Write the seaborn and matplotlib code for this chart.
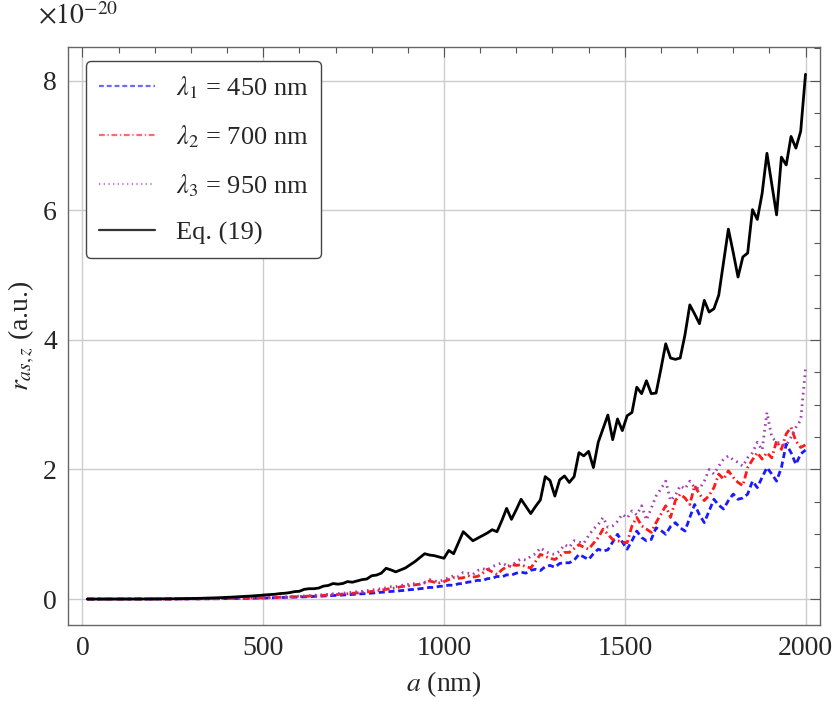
import numpy as np
import pandas as pd
import matplotlib
matplotlib.use("Agg")
import matplotlib.pyplot as plt
from matplotlib.ticker import MultipleLocator
import seaborn as sns

# particle size a (nm): 150 samples, step 2000/150
a_nm = np.linspace(2000 / 150, 2000, 150)

# r_as,z in units of 1e-20 (a.u.)
eq19 = [
    0, 0, 0, 0, 0.00005, 0.0001, 0.00015, 0.0002, 0.0003, 0.0005,
    0.0007, 0.0009, 0.0012, 0.0016, 0.002, 0.0026, 0.0033, 0.004, 0.0048, 0.0058,
    0.0068, 0.008, 0.0095, 0.011, 0.013, 0.015, 0.017, 0.020, 0.023, 0.026,
    0.030, 0.034, 0.038, 0.043, 0.047, 0.052, 0.058, 0.065, 0.07, 0.075,
    0.085, 0.09, 0.10, 0.115, 0.12, 0.15, 0.16, 0.16, 0.17, 0.20,
    0.21, 0.24, 0.23, 0.24, 0.27, 0.26, 0.28, 0.30, 0.31, 0.36,
    0.37, 0.40, 0.475, 0.45, 0.42, 0.45, 0.48, 0.53, 0.58, 0.64,
    0.70, 0.68, 0.67, 0.65, 0.63, 0.75, 0.70, 0.87, 1.04, 0.97,
    0.90, 0.94, 0.98, 1.02, 1.07, 1.04, 1.21, 1.40, 1.23, 1.38,
    1.54, 1.43, 1.32, 1.43, 1.53, 1.89, 1.83, 1.59, 1.84, 1.90,
    1.80, 1.89, 2.26, 2.21, 2.28, 2.03, 2.42, 2.63, 2.84, 2.46,
    2.78, 2.60, 2.83, 2.88, 3.27, 3.17, 3.37, 3.17, 3.18, 3.55,
    3.94, 3.72, 3.70, 3.72, 4.08, 4.54, 4.40, 4.25, 4.61, 4.43,
    4.48, 4.69, 5.20, 5.71, 5.35, 4.97, 5.28, 5.34, 6.01, 5.86,
    6.26, 6.88, 6.40, 5.93, 6.82, 6.70, 7.14, 6.96, 7.22, 8.10,
]
lam1 = [
    0, 0, 0, 0, 0, 0, 0, 0, 0.0001, 0.0001,
    0.0002, 0.0002, 0.0003, 0.0004, 0.0005, 0.0006, 0.0008, 0.001, 0.0012, 0.0015,
    0.0018, 0.0022, 0.0026, 0.003, 0.0035, 0.004, 0.0046, 0.0053, 0.006, 0.0068,
    0.0077, 0.0087, 0.0098, 0.011, 0.012, 0.0135, 0.015, 0.017, 0.0185, 0.02,
    0.022, 0.024, 0.027, 0.029, 0.032, 0.035, 0.036, 0.041, 0.043, 0.047,
    0.05, 0.055, 0.057, 0.063, 0.066, 0.072, 0.075, 0.082, 0.085, 0.092,
    0.098, 0.105, 0.11, 0.118, 0.121, 0.13, 0.135, 0.146, 0.15, 0.16,
    0.168, 0.18, 0.178, 0.196, 0.2, 0.215, 0.212, 0.236, 0.24, 0.262,
    0.27, 0.29, 0.283, 0.315, 0.32, 0.35, 0.34, 0.375, 0.37, 0.40,
    0.415, 0.40, 0.445, 0.46, 0.44, 0.50, 0.52, 0.49, 0.55, 0.56,
    0.56, 0.60, 0.69, 0.65, 0.61, 0.70, 0.77, 0.74, 0.76, 0.88,
    1.00, 0.88, 0.77, 0.90, 1.05, 0.95, 0.90, 0.92, 1.10, 1.06,
    1.00, 1.12, 1.18, 1.10, 1.05, 1.26, 1.46, 1.30, 1.18, 1.36,
    1.54, 1.45, 1.39, 1.52, 1.62, 1.54, 1.56, 1.62, 1.82, 1.72,
    1.88, 2.03, 1.93, 1.82, 2.03, 2.39, 2.26, 2.08, 2.24, 2.30,
]
lam2 = [
    0, 0, 0, 0, 0, 0, 0, 0.0001, 0.0001, 0.0002,
    0.0002, 0.0003, 0.0004, 0.0005, 0.0006, 0.0008, 0.001, 0.0012, 0.0015, 0.0018,
    0.0022, 0.0026, 0.0031, 0.0036, 0.0042, 0.0048, 0.0055, 0.0063, 0.0072, 0.0082,
    0.0093, 0.0105, 0.012, 0.013, 0.015, 0.016, 0.018, 0.02, 0.022, 0.024,
    0.027, 0.029, 0.033, 0.035, 0.039, 0.043, 0.045, 0.05, 0.053, 0.058,
    0.062, 0.068, 0.07, 0.078, 0.082, 0.09, 0.094, 0.104, 0.11, 0.118,
    0.124, 0.14, 0.15, 0.165, 0.17, 0.19, 0.2, 0.205, 0.22, 0.23,
    0.25, 0.28, 0.26, 0.25, 0.27, 0.30, 0.33, 0.32, 0.33, 0.36,
    0.34, 0.35, 0.40, 0.46, 0.42, 0.38, 0.45, 0.50, 0.53, 0.52,
    0.53, 0.50, 0.48, 0.58, 0.69, 0.66, 0.63, 0.61, 0.66, 0.72,
    0.72, 0.78, 0.84, 0.80, 0.77, 0.86, 0.95, 1.08, 1.00, 0.92,
    0.90, 0.88, 0.87, 1.13, 1.26, 1.13, 1.08, 1.03, 1.18, 1.31,
    1.44, 1.26, 1.52, 1.62, 1.56, 1.46, 1.75, 1.62, 1.52, 1.60,
    1.72, 1.93, 1.85, 1.98, 1.88, 1.80, 1.75, 2.03, 2.15, 2.26,
    2.16, 2.26, 2.18, 2.44, 2.31, 2.55, 2.65, 2.44, 2.34, 2.38,
]
lam3 = [
    0, 0, 0, 0, 0, 0, 0, 0.0001, 0.0001, 0.0002,
    0.0003, 0.0004, 0.0005, 0.0006, 0.0008, 0.001, 0.0012, 0.0015, 0.0018, 0.0022,
    0.0026, 0.0031, 0.0037, 0.0043, 0.005, 0.0057, 0.0065, 0.0075, 0.0085, 0.0096,
    0.011, 0.012, 0.014, 0.015, 0.017, 0.019, 0.021, 0.023, 0.026, 0.028,
    0.031, 0.034, 0.038, 0.041, 0.045, 0.05, 0.053, 0.058, 0.063, 0.068,
    0.073, 0.08, 0.085, 0.092, 0.1, 0.105, 0.115, 0.12, 0.13, 0.14,
    0.15, 0.16, 0.175, 0.19, 0.19, 0.21, 0.22, 0.23, 0.24, 0.23,
    0.26, 0.30, 0.28, 0.27, 0.30, 0.33, 0.36, 0.35, 0.41, 0.40,
    0.38, 0.44, 0.47, 0.45, 0.50, 0.53, 0.56, 0.52, 0.50, 0.58,
    0.62, 0.60, 0.66, 0.70, 0.79, 0.74, 0.70, 0.69, 0.74, 0.84,
    0.80, 0.90, 0.88, 0.86, 0.98, 1.08, 1.15, 1.26, 1.11, 1.13,
    1.20, 1.31, 1.25, 1.36, 1.30, 1.44, 1.22, 1.40, 1.59, 1.70,
    1.82, 1.52, 1.60, 1.75, 1.70, 1.82, 1.72, 1.70, 1.82, 2.00,
    1.93, 2.05, 2.16, 2.21, 2.15, 2.11, 2.05, 2.18, 2.26, 2.42,
    2.30, 2.88, 2.50, 2.42, 2.40, 2.37, 2.50, 2.65, 2.76, 3.55,
]

labels = [r"$\lambda_1$ = 450 nm", r"$\lambda_2$ = 700 nm",
          r"$\lambda_3$ = 950 nm", "Eq. (19)"]

sns.set_theme(style="white")
plt.rcParams["font.family"] = ["Liberation Serif", "DejaVu Serif"]
plt.rcParams["mathtext.fontset"] = "stix"

fig = plt.figure(figsize=(8.35, 7.02), dpi=100)
ax = fig.add_axes([0.0814, 0.1097, 0.9006, 0.8233])

df = pd.DataFrame({"a": a_nm, "l1": lam1, "l2": lam2, "l3": lam3, "eq": eq19})

sns.lineplot(data=df, x="a", y="l1", ax=ax, color="#1a1aff", lw=2.0,
             linestyle=(0, (2.2, 1.3)), label=labels[0], errorbar=None)
sns.lineplot(data=df, x="a", y="l2", ax=ax, color="#ff1a1a", lw=2.0,
             linestyle=(0, (2.6, 1.2, 0.6, 1.2)), label=labels[1], errorbar=None)
sns.lineplot(data=df, x="a", y="l3", ax=ax, color="#a040b0", lw=2.0,
             linestyle=(0, (0.6, 1.5)), label=labels[2], errorbar=None)
sns.lineplot(data=df, x="a", y="eq", ax=ax, color="black", lw=2.0,
             label=labels[3], errorbar=None)

ax.set_xlim(-40, 2040)
ax.set_ylim(-0.4, 8.52)
ax.xaxis.set_major_locator(MultipleLocator(500))
ax.xaxis.set_minor_locator(MultipleLocator(100))
ax.yaxis.set_major_locator(MultipleLocator(2))
ax.yaxis.set_minor_locator(MultipleLocator(0.5))
ax.tick_params(which="both", direction="in", top=True, right=True,
               color="#555555", labelsize=20, width=0.8)
ax.tick_params(which="major", length=7, pad=8)
ax.tick_params(which="minor", length=4)
ax.grid(True, which="major", color="#cccccc", lw=1.0)
for s in ax.spines.values():
    s.set_color("#666666")
    s.set_linewidth(1.0)

ax.set_xlabel(r"$a$ (nm)", fontsize=20, labelpad=6)
ax.set_ylabel(r"$r_{as,z}$ (a.u.)", fontsize=20, labelpad=4)
fig.text(0.045, 0.996, r"$\times10^{-20}$", fontsize=20, va="top", ha="left")

leg = ax.legend(loc="upper left", bbox_to_anchor=(0.024, 0.976), borderaxespad=0,
                fontsize=19, handlelength=2.1, labelspacing=0.85, handletextpad=0.8,
                borderpad=0.5, frameon=True, fancybox=True, edgecolor="#444444",
                framealpha=1)
leg.get_frame().set_linewidth(1.0)
# legend samples look paler than the curves
for h in leg.get_lines()[:3]:
    h.set_alpha(0.65)
    h.set_linewidth(1.6)
leg.get_lines()[3].set_color("#333333")
leg.get_lines()[3].set_linewidth(1.6)

fig.savefig("out.png", dpi=100)
